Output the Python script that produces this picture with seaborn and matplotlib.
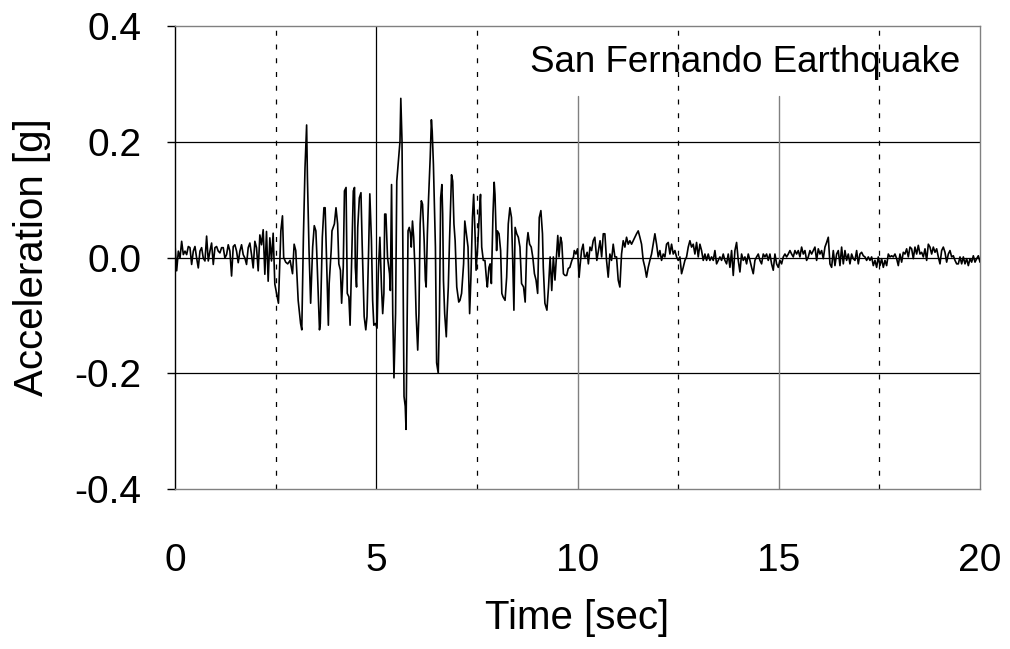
import numpy as np
import pandas as pd
import matplotlib
matplotlib.use("Agg")
import matplotlib.pyplot as plt
import seaborn as sns

# ---------------------------------------------------------------------------
# Ground acceleration record, San Fernando earthquake (g)
# ---------------------------------------------------------------------------

# Pre-event noise, evenly sampled from 0 s to 2.48 s
head_accel = [
    0.022, -0.023, 0.011, -0.001, 0.028, 0.005, 0.011, 0.005, 0.019, 0.017,
    -0.012, 0.011, 0.019, -0.001, -0.018, 0.011, 0.017, -0.001, -0.006, 0.037,
    -0.006, 0.011, 0.025, -0.012, 0.017, 0.019, 0.011, 0.008, 0.017, 0.017,
    -0.001, 0.005, 0.022, 0.011, -0.032, 0.019, 0.022, 0.011, -0.009, 0.011,
    0.022, 0.005, -0.001, -0.012, 0.017, 0.025, 0.005, -0.018, 0.028, 0.017,
    -0.023, 0.039, 0.022, 0.048, -0.029, 0.045, -0.041, 0.034, -0.006, 0.042,
    -0.046,
]
head_start, head_end = 0.0, 2.48

# Strong-motion phase: turning points of the trace
strong_time = [
    2.57, 2.63, 2.67, 2.70, 2.75, 2.80, 2.86, 2.92, 2.96, 3.00, 3.06, 3.12, 3.15,
    3.19, 3.23, 3.27, 3.29, 3.33, 3.37, 3.42, 3.46, 3.50, 3.52, 3.59, 3.61, 3.66,
    3.70, 3.73,
    3.81, 3.83, 3.88, 3.90, 3.96, 4.00, 4.04, 4.07, 4.11, 4.14, 4.18, 4.21, 4.25,
    4.28, 4.32, 4.35, 4.39, 4.43, 4.46, 4.48, 4.51, 4.54, 4.58, 4.62, 4.65, 4.70,
    4.74, 4.77, 4.81, 4.84, 4.88, 4.91, 4.94, 4.98, 5.02, 5.05,
    5.09, 5.13, 5.16, 5.19, 5.21, 5.24, 5.28, 5.33, 5.35, 5.38, 5.41, 5.44, 5.48,
    5.51, 5.55, 5.59, 5.61, 5.64, 5.66, 5.69, 5.72, 5.74, 5.76, 5.79, 5.82, 5.85,
    5.87, 5.90, 5.93, 5.96, 5.99, 6.03, 6.06, 6.09, 6.12, 6.15, 6.19, 6.22, 6.24,
    6.27, 6.30, 6.34, 6.37, 6.39, 6.42, 6.44, 6.47, 6.50, 6.54,
    6.57, 6.60, 6.63, 6.65, 6.67, 6.70, 6.74, 6.76, 6.79, 6.82, 6.87, 6.90, 6.93,
    6.96, 7.00, 7.05, 7.08, 7.12, 7.17, 7.20, 7.24, 7.28, 7.32, 7.35, 7.39, 7.42,
    7.46, 7.48, 7.52, 7.56, 7.59, 7.62, 7.66, 7.70, 7.74, 7.76, 7.80, 7.83, 7.86,
    7.90, 7.93,
    7.95, 7.99, 8.01, 8.05, 8.09, 8.12, 8.15, 8.20, 8.24, 8.28, 8.32, 8.36, 8.39,
    8.42, 8.45, 8.49, 8.53, 8.57, 8.61, 8.66, 8.70, 8.74, 8.77, 8.81, 8.85, 8.89,
    8.93, 8.97, 9.01, 9.05, 9.09, 9.13, 9.15, 9.19, 9.24,
    9.28, 9.32, 9.36, 9.40, 9.44, 9.51, 9.54, 9.58, 9.61, 9.65, 9.69, 9.73, 9.77,
    9.81, 9.86, 9.90, 9.92, 9.96, 10.00, 10.04, 10.06, 10.10, 10.14, 10.17, 10.20,
    10.24, 10.27, 10.31, 10.35, 10.39, 10.43, 10.48, 10.52, 10.56, 10.60, 10.64,
]
strong_accel = [
    -0.079, 0.046, 0.072, 0.0, -0.008, -0.011, -0.005, -0.028, 0.023, 0.012,
    -0.074, -0.114, -0.125, 0.035, 0.155, 0.229, 0.138, 0.012, -0.079, 0.018,
    0.055, 0.046, 0.012, -0.125, -0.114, 0.035, 0.086, 0.086,
    -0.117, -0.045, 0.012, 0.046, 0.058, 0.086, 0.058, -0.011, -0.022, -0.079,
    -0.017, 0.115, 0.121, -0.062, -0.068, -0.117, 0.0, 0.115, 0.121, -0.017,
    -0.051, 0.052, 0.103, 0.112, 0.023, -0.102, -0.125, -0.102, 0.012, 0.11,
    0.03, -0.074, -0.117, -0.114, -0.122, -0.028,
    0.035, -0.051, -0.097, -0.062, 0.075, 0.075, 0.0, -0.028, -0.057, 0.126,
    -0.097, -0.208, -0.097, 0.132, 0.166, 0.201, 0.275, 0.201, 0.018, -0.24,
    -0.257, -0.297, -0.154, 0.046, 0.052, 0.041, 0.018, 0.063, 0.035, -0.017,
    -0.097, -0.16, -0.097, 0.058, 0.098, 0.092, 0.029, -0.039, -0.051, 0.041,
    0.103, 0.172, 0.238, 0.218, 0.161, 0.103, 0.018, -0.182, -0.2,
    -0.1, 0.103, 0.126, 0.075, -0.04, -0.097, -0.137, -0.097, -0.051, 0.029,
    0.143, 0.132, 0.058, 0.029, -0.051, -0.077, -0.074, -0.062, -0.011, 0.063,
    0.041, 0.018, -0.097, -0.039, 0.069, 0.109, 0.029, -0.022, 0.018, 0.075,
    0.109, 0.018, -0.005, -0.005, -0.039, -0.051, -0.017, -0.011, -0.045, 0.075,
    0.13,
    0.109, 0.012, 0.046, 0.041, 0.012, -0.062, -0.068, -0.074, -0.034, 0.058,
    0.086, 0.069, -0.005, -0.091, 0.052, 0.041, 0.035, 0.018, -0.045, -0.051,
    -0.077, 0.023, 0.043, 0.023, 0.018, 0.0, -0.028, -0.039, -0.062, 0.069,
    0.081, 0.041, -0.017, -0.079, -0.091,
    -0.051, 0.001, -0.057, 0.001, -0.039, 0.038, 0.001, 0.035, 0.026, -0.028,
    -0.031, -0.031, -0.019, -0.017, -0.005, 0.001, 0.012, 0.006, 0.015, -0.034,
    -0.017, 0.012, 0.023, 0.001, 0.001, 0.009, -0.011, 0.018, 0.012, 0.029,
    0.035, -0.005, 0.012, 0.029, 0.001, 0.041,
]

# Coda, evenly sampled from 10.68 s to 20 s
tail_accel = [
    # 10.68 - 13.0 s
    0.041, -0.005, -0.034, 0.006, -0.005, 0.023, 0.001, 0.001, -0.039, -0.051,
    0.006, 0.029, 0.018, 0.035, 0.023, 0.029, 0.023, 0.029, 0.035, 0.041,
    0.046, 0.035, 0.023, -0.005, -0.017, -0.034, -0.017, -0.005, 0.006, 0.023,
    0.041, 0.023, 0.001, 0.012, -0.005, 0.006, 0.001, 0.023, 0.026, 0.006,
    0.023, 0.006, 0.012, 0.001, -0.005, 0.001, -0.028, -0.017, -0.005, 0.001,
    0.018, 0.029, 0.018, 0.023, 0.006, 0.026, 0.001,
    # 13.0 - 15.5 s
    0.023, 0.012, -0.005, 0.006, -0.005, 0.006, -0.005, 0.001, -0.005, 0.012,
    -0.011, -0.005, 0.001, -0.005, 0.006, -0.005, -0.011, 0.006, -0.017, 0.012,
    -0.031, 0.012, 0.026, -0.005, -0.025, 0.006, -0.005, 0.001, -0.011, 0.006,
    -0.005, -0.017, -0.028, -0.005, 0.001, 0.006, -0.005, -0.011, 0.006, 0.001,
    0.006, -0.005, 0.006, -0.011, -0.022, 0.006, -0.011, -0.017, -0.005, -0.011,
    0.001, 0.006, 0.001, 0.006, 0.012, 0.006, 0.001, 0.012, 0.006, 0.012,
    # 15.5 - 17.9 s
    0.001, 0.018, 0.006, 0.012, -0.005, 0.001, 0.012, 0.006, 0.012, 0.018,
    -0.005, 0.015, 0.006, 0.012, -0.002, 0.018, 0.026, 0.035, -0.011, -0.017,
    0.012, -0.014, 0.006, 0.012, -0.014, 0.018, -0.011, 0.012, -0.005, 0.006,
    -0.011, 0.006, -0.002, -0.005, 0.012, -0.011, 0.006, 0.009, 0.003, 0.001,
    -0.005, 0.001, -0.005, 0.001, -0.014, -0.005, -0.017, 0.001, -0.014, -0.002,
    -0.017, -0.005, -0.014, 0.006, 0.001, 0.003, 0.001,
    # 17.9 - 20.0 s
    0.006, -0.002, -0.014, 0.006, -0.008, 0.009, 0.006, 0.015, 0.001, 0.018,
    0.015, -0.002, 0.018, 0.006, 0.021, 0.006, 0.009, 0.001, 0.015, -0.005,
    0.023, 0.018, 0.006, 0.018, 0.009, 0.015, 0.001, -0.011, 0.012, 0.018,
    0.009, -0.008, 0.006, 0.012, 0.001, 0.003, -0.005, -0.011, -0.011, 0.001,
    -0.011, 0.001, -0.011, -0.002, -0.014, -0.002, -0.008, 0.003, -0.008, -0.002,
    0.003, -0.008,
]
tail_start, tail_end = 10.68, 20.0

# Axis ticks and labels
x_ticks = [0, 5, 10, 15, 20]
x_minor_ticks = [2.5, 7.5, 12.5, 17.5]
y_ticks = [-0.4, -0.2, 0.0, 0.2, 0.4]
y_tick_labels = ["-0.4", "-0.2", "0.0", "0.2", "0.4"]
title_text = "San Fernando Earthquake"
x_label = "Time [sec]"
y_label = "Acceleration [g]"

# ---------------------------------------------------------------------------
head_time = np.linspace(head_start, head_end, len(head_accel))
tail_time = np.linspace(tail_start, tail_end, len(tail_accel))
record = pd.DataFrame({
    "time": np.concatenate([head_time, strong_time, tail_time]),
    "accel": np.concatenate([head_accel, strong_accel, tail_accel]),
})

sns.set_style("white")
plt.rcParams["font.family"] = ["Liberation Sans", "DejaVu Sans"]
plt.rcParams.update({
    "text.color": "black",
    "axes.labelcolor": "black",
    "xtick.color": "black",
    "ytick.color": "black",
})

fig = plt.figure(figsize=(10.1, 6.49), dpi=100)
ax = fig.add_axes([0.17327, 0.24653, 0.79703, 0.71341])

# Grid: solid at major positions, dashed at half steps
ax.set_ylim(-0.4, 0.4)
ax.set_xlim(0, 20)
for y in y_ticks[1:-1]:
    ax.axhline(y, color="black", lw=0.9, zorder=1)
ax.axvline(x_ticks[1], color="black", lw=0.9, zorder=1)
for x in x_ticks[2:-1]:
    ax.axvline(x, ymax=0.848, color="#808080", lw=1.0, zorder=1)
for x in x_minor_ticks:
    ax.axvline(x, color="black", lw=0.9, ls=(0, (4, 7)), zorder=1)

sns.lineplot(data=record, x="time", y="accel", ax=ax, color="black",
             lw=1.2, sort=False, estimator=None, zorder=3)

ax.set_xticks(x_ticks)
ax.set_xticklabels([str(v) for v in x_ticks])
ax.set_yticks(y_ticks)
ax.set_yticklabels(y_tick_labels)
ax.tick_params(axis="x", length=0, pad=39, labelsize=28, labelcolor="black")
ax.tick_params(axis="y", direction="out", length=6, width=1.0, pad=18,
               labelsize=28, left=True, color="black", labelcolor="black")

for side in ("top", "right", "bottom"):
    ax.spines[side].set_color("#808080")
    ax.spines[side].set_linewidth(1.0)
ax.spines["left"].set_color("black")
ax.spines["left"].set_linewidth(1.0)

ax.set_xlabel(x_label, fontsize=29, color="black")
ax.set_ylabel(y_label, fontsize=29, color="black")
ax.xaxis.set_label_coords(0.5, -0.2786)
ax.xaxis.label.set_va("center")
ax.yaxis.set_label_coords(-0.1776, 0.5)
ax.yaxis.label.set_va("center")

ax.text(0.976, 0.922, title_text, transform=ax.transAxes, ha="right",
        va="center", fontsize=26.5, color="black", zorder=4)

fig.savefig("out.png", dpi=100)
